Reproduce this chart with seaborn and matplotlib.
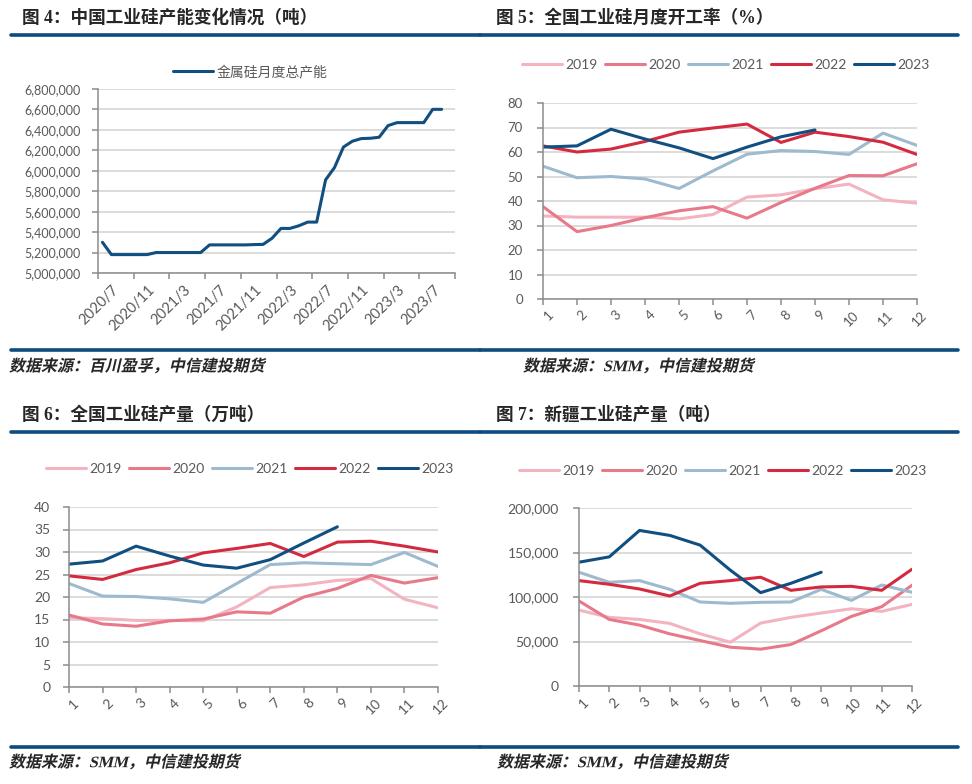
import matplotlib
matplotlib.use("Agg")
import matplotlib.pyplot as plt
import pandas as pd
import seaborn as sns
from matplotlib.lines import Line2D
from matplotlib.patheffects import AbstractPathEffect
from matplotlib.ticker import FuncFormatter, MultipleLocator
from matplotlib.transforms import Affine2D, ScaledTranslation

# 图4：金属硅月度总产能（吨），2020/7 - 2023/9
capacity = [5300000, 5180000, 5180000, 5180000, 5180000, 5180000,
            5200000, 5200000, 5200000, 5200000, 5200000, 5200000,
            5275000, 5275000, 5275000, 5275000, 5275000, 5278000, 5280000,
            5340000, 5436000, 5436000, 5462000, 5498000, 5498000,
            5911000, 6032000, 6232000, 6289000, 6315000, 6318000, 6328000,
            6442000, 6471000, 6471000, 6471000, 6471000, 6601000, 6601000]
capacity_ticks = ["2020/7", "2020/11", "2021/3", "2021/7", "2021/11",
                  "2022/3", "2022/7", "2022/11", "2023/3", "2023/7", ""]

years = ["2019", "2020", "2021", "2022", "2023"]
months = [1, 2, 3, 4, 5, 6, 7, 8, 9, 10, 11, 12]

# 图5：全国工业硅月度开工率（%）
rate_2019 = [33.9, 33.4, 33.4, 33.4, 32.7, 34.5, 41.6, 42.5, 45.0, 46.9, 40.5, 39.1]
rate_2020 = [37.7, 27.5, 30.0, 33.2, 36.0, 37.7, 33.0, 39.4, 45.2, 50.4, 50.3, 55.2]
rate_2021 = [54.2, 49.5, 50.0, 49.0, 45.1, 52.3, 59.1, 60.6, 60.2, 59.0, 67.7, 62.7]
rate_2022 = [62.5, 60.0, 61.2, 64.3, 68.1, 69.8, 71.4, 63.9, 68.1, 66.3, 64.0, 59.0]
rate_2023 = [62.0, 62.5, 69.3, 65.3, 61.7, 57.3, 62.0, 66.2, 69.0]

# 图6：全国工业硅产量（万吨）
output_2019 = [15.4, 15.2, 14.8, 14.8, 14.7, 17.8, 22.1, 22.7, 23.7, 24.1, 19.5, 17.6]
output_2020 = [16.0, 14.0, 13.5, 14.7, 15.1, 16.7, 16.4, 20.0, 21.9, 24.8, 23.1, 24.3]
output_2021 = [23.0, 20.2, 20.1, 19.6, 18.8, 23.0, 27.2, 27.6, 27.4, 27.2, 29.9, 26.8]
output_2022 = [24.7, 23.9, 26.1, 27.6, 29.8, 30.8, 31.9, 29.0, 32.2, 32.4, 31.3, 30.0]
output_2023 = [27.3, 28.0, 31.3, 29.1, 27.1, 26.4, 28.3, 32.0, 35.6]

# 图7：新疆工业硅产量（吨）
xj_2019 = [85300, 77100, 74800, 70300, 58600, 49200, 70700, 77100, 82000, 86800, 83800, 91700]
xj_2020 = [95500, 74800, 68400, 58600, 51100, 43600, 41400, 46600, 62000, 78200, 89100, 113200]
xj_2021 = [127800, 116500, 118400, 108600, 94400, 92900, 94000, 94400, 108600, 96200, 113500, 105300]
xj_2022 = [118400, 114300, 109000, 101100, 115400, 118400, 122200, 107500, 111300, 112000, 107500, 131200]
xj_2023 = [139100, 145100, 174800, 169200, 158300, 130100, 104900, 115400, 127800]

COLORS = {"2019": "#F3B4C0", "2020": "#E8798B", "2021": "#9DBACE",
          "2022": "#D42A40", "2023": "#104F80"}
RULE = "#0F4C7E"
AXIS = "#8C8C8C"
GRID = "#D9D9D9"
TEXT = "#595959"
W, H = 972, 784
CJK = ["Lato", "Noto Sans CJK SC"]
HEAD = ["Liberation Serif", "Noto Sans CJK SC"]


class Oblique(AbstractPathEffect):
    """slant text drawn as path (CJK font has no italic)."""

    def __init__(self, deg=12):
        super().__init__()
        self.deg = deg

    def draw_path(self, renderer, gc, tpath, affine, rgbFace=None):
        ox, oy = affine.transform((0, 0))
        skew = Affine2D().translate(-ox, -oy).skew_deg(self.deg, 0).translate(ox, oy)
        renderer.draw_path(gc, tpath, affine + skew, rgbFace)


def box(left, top, right, bottom):
    return [left / W, 1 - bottom / H, (right - left) / W, (bottom - top) / H]


def long_frame(series, name):
    rows = []
    for year, vals in zip(years, series):
        for m, v in zip(months, vals):
            rows.append({"月份": m, name: v, "年份": year})
    return pd.DataFrame(rows)


def style_axes(ax, size, ypad):
    for side in ("top", "right"):
        ax.spines[side].set_visible(False)
    for side in ("left", "bottom"):
        ax.spines[side].set_color(AXIS)
        ax.spines[side].set_linewidth(1.1)
    ax.tick_params(colors=AXIS, labelcolor=TEXT, labelsize=size,
                   length=4, width=1.1, direction="out", pad=3)
    ax.tick_params(axis="y", pad=ypad)
    ax.yaxis.grid(True, color=GRID, linewidth=1.3)
    ax.xaxis.grid(False)
    ax.set_axisbelow(True)
    ax.set_xlabel("")
    ax.set_ylabel("")


def rotate_labels(ax, dx, size=None):
    for lab in ax.get_xticklabels():
        lab.set_rotation(45)
        lab.set_ha("right")
        lab.set_rotation_mode("anchor")
        if size:
            lab.set_fontsize(size)
        lab.set_transform(lab.get_transform()
                          + ScaledTranslation(dx / 100, 0, fig.dpi_scale_trans))


def add_legend(ax, labels, cx, cy):
    ax.legend(ax.lines, labels, loc="center",
              bbox_to_anchor=(cx / W, 1 - cy / H), bbox_transform=fig.transFigure,
              ncol=len(labels), frameon=False, fontsize=10, labelcolor=TEXT,
              handlelength=2.9, handletextpad=0.25, columnspacing=0.5)


def frame_text(title, tx, ty, source, sx, sy, rule_top, rule_bottom, x0, x1):
    fig.text(tx / W, 1 - ty / H, title, ha="left", va="center",
             fontsize=12.7, fontweight="bold", family=HEAD)
    fig.text(sx / W, 1 - sy / H, source, ha="left", va="center",
             fontsize=11.5, fontweight="bold", family=HEAD,
             path_effects=[Oblique(13)])
    for y in (rule_top, rule_bottom):
        fig.add_artist(Line2D([x0 / W, x1 / W], [1 - y / H, 1 - y / H],
                              color=RULE, linewidth=2.6, transform=fig.transFigure))


def year_panel(ax, df, name, size, ypad):
    sns.lineplot(data=df, x="月份", y=name, hue="年份", palette=COLORS,
                 linewidth=2.2, errorbar=None, legend=False, ax=ax)
    ax.set_xlim(1, 12)
    ax.set_xticks(months)
    style_axes(ax, size, ypad)
    rotate_labels(ax, 4)


sns.set_style("ticks")
plt.rcParams["font.family"] = CJK
plt.rcParams["axes.unicode_minus"] = False

fig = plt.figure(figsize=(W / 100, H / 100), dpi=100)

# 图4
ax1 = fig.add_axes(box(98, 89, 455, 273))
sns.lineplot(x=list(range(len(capacity))), y=capacity, color=COLORS["2023"],
             linewidth=2.2, errorbar=None, ax=ax1)
ax1.set_xlim(-0.5, 39.5)
ax1.set_ylim(5000000, 6800000)
ax1.yaxis.set_major_locator(MultipleLocator(200000))
ax1.yaxis.set_major_formatter(FuncFormatter(lambda v, _: f"{v:,.0f}"))
ax1.set_xticks([i * 4 - 0.5 for i in range(len(capacity_ticks))])
ax1.set_xticklabels(capacity_ticks)
style_axes(ax1, 9, 8.5)
rotate_labels(ax1, 14, 10.5)
add_legend(ax1, ["金属硅月度总产能"], 250, 71)
frame_text("图 4：中国工业硅产能变化情况（吨）", 22, 18,
           "数据来源：百川盈孚，中信建投期货", 9, 367, 34.5, 350, 11, 480)

# 图5
ax2 = fig.add_axes(box(543, 103, 917, 299))
rate_df = long_frame([rate_2019, rate_2020, rate_2021, rate_2022, rate_2023], "开工率")
year_panel(ax2, rate_df, "开工率", 9.5, 10.5)
ax2.set_ylim(0, 80)
ax2.yaxis.set_major_locator(MultipleLocator(10))
add_legend(ax2, years, 726, 65)
frame_text("图 5：全国工业硅月度开工率（%）", 496, 18,
           "数据来源：SMM，中信建投期货", 523, 367, 34.5, 350, 480, 958)

# 图6
ax3 = fig.add_axes(box(69, 507, 438, 687))
out_df = long_frame([output_2019, output_2020, output_2021, output_2022, output_2023], "产量")
year_panel(ax3, out_df, "产量", 10, 9.5)
ax3.set_ylim(0, 40)
ax3.yaxis.set_major_locator(MultipleLocator(5))
add_legend(ax3, years, 250, 469)
frame_text("图 6：全国工业硅产量（万吨）", 22, 415,
           "数据来源：SMM，中信建投期货", 9, 763, 431.5, 746.5, 11, 480)

# 图7
ax4 = fig.add_axes(box(579, 508, 912, 686))
xj_df = long_frame([xj_2019, xj_2020, xj_2021, xj_2022, xj_2023], "新疆产量")
year_panel(ax4, xj_df, "新疆产量", 10, 10.5)
ax4.set_ylim(0, 200000)
ax4.yaxis.set_major_locator(MultipleLocator(50000))
ax4.yaxis.set_major_formatter(FuncFormatter(lambda v, _: f"{v:,.0f}"))
add_legend(ax4, years, 723, 471)
frame_text("图 7：新疆工业硅产量（吨）", 496, 415,
           "数据来源：SMM，中信建投期货", 497, 763, 431.5, 746.5, 480, 958)

fig.savefig("out.png", dpi=100)
